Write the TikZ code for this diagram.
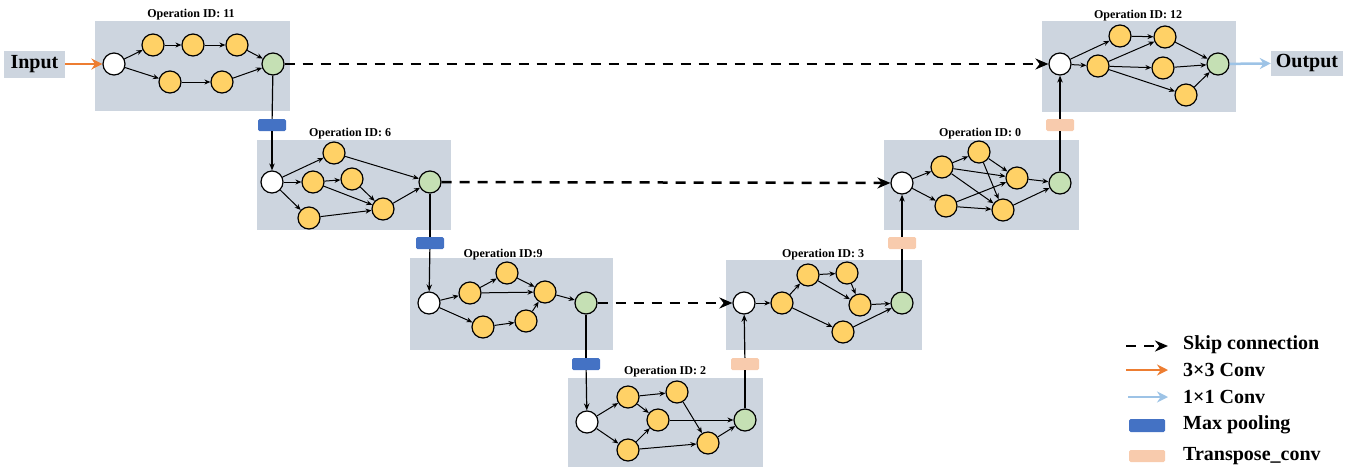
\documentclass[tikz,border=0pt]{standalone}
\usepackage{fontspec}
\setmainfont{Liberation Serif}
\usetikzlibrary{arrows.meta}
\definecolor{boxgray}{RGB}{205,213,223}
\definecolor{ylw}{RGB}{255,209,102}
\definecolor{grn}{RGB}{197,224,180}
\definecolor{mpblue}{RGB}{68,114,196}
\definecolor{tcpink}{RGB}{248,203,173}
\definecolor{orng}{RGB}{237,125,49}
\definecolor{lblue}{RGB}{157,195,230}
\begin{document}
\begin{tikzpicture}[x=1pt,y=-1pt,
 opnode/.style={circle,draw=black,line width=1.2pt,minimum size=22pt,inner sep=0pt},
 wn/.style={opnode,fill=white},
 yn/.style={opnode,fill=ylw},
 gn/.style={opnode,fill=grn},
 edge/.style={-{Stealth[length=6pt,width=5pt]},line width=1pt},
 plain/.style={line width=1.2pt},
 vedge/.style={-{Stealth[length=7pt,width=5.5pt]},line width=1.2pt},
 panel/.style={fill=boxgray,draw=none,inner sep=0pt},
 title/.style={font=\bfseries\fontsize{12}{14}\selectfont,inner sep=0pt},
 skip/.style={dash pattern=on 10pt off 8pt,line width=2.5pt,-{Stealth[length=13pt,width=11pt]}},
 pool/.style={fill=mpblue,rounded corners=1.5pt,minimum width=28pt,minimum height=12pt,inner sep=0pt},
 tconv/.style={fill=tcpink,rounded corners=1.5pt,minimum width=28pt,minimum height=12pt,inner sep=0pt},
 iolabel/.style={fill=boxgray,inner sep=0pt,font=\bfseries\fontsize{20}{24}\selectfont},
 legtext/.style={anchor=west,inner sep=0pt,font=\bfseries\fontsize{20}{24}\selectfont},
 convarrow/.style={line width=2.5pt,-{Stealth[length=11pt,width=11pt]}}
]
\useasboundingbox (0,0) rectangle (1353,467);

% panels
\node[panel,minimum width=195pt,minimum height=90pt] (p1) at (192.5,66) {};
\node[panel,minimum width=194pt,minimum height=90pt] (p2) at (354,185) {};
\node[panel,minimum width=203pt,minimum height=92pt] (p3) at (511.5,304) {};
\node[panel,minimum width=195pt,minimum height=89pt] (p4) at (665.5,422.5) {};
\node[panel,minimum width=196pt,minimum height=90pt] (p5) at (824,305) {};
\node[panel,minimum width=195pt,minimum height=90pt] (p6) at (981.5,185) {};
\node[panel,minimum width=194pt,minimum height=91pt] (p7) at (1139,66.5) {};

% titles
\node[title] (t1) at (191,15) {Operation ID: 11};
\node[title] (t2) at (350,134) {Operation ID: 6};
\node[title] (t3) at (503,255) {Operation ID:9};
\node[title] (t4) at (665,372) {Operation ID: 2};
\node[title] (t5) at (823,255) {Operation ID: 3};
\node[title] (t6) at (980,134) {Operation ID: 0};
\node[title] (t7) at (1138,16) {Operation ID: 12};

% input / output
\node[iolabel,minimum width=61pt,minimum height=27pt] (inp) at (34.5,64) {Input};
\node[iolabel,minimum width=72pt,minimum height=25pt] (outp) at (1307,63) {Output};

% box 1
\node[wn] (b1w) at (114,64) {};
\node[yn] (b1a) at (153,45) {};
\node[yn] (b1b) at (193,45) {};
\node[yn] (b1c) at (237,45) {};
\node[yn] (b1d) at (170,82) {};
\node[yn] (b1e) at (222,82) {};
\node[gn] (b1g) at (273,64) {};
\foreach \s/\t in {b1w/b1a,b1a/b1b,b1b/b1c,b1c/b1g,b1w/b1d,b1d/b1e,b1e/b1g}
  \draw[edge] (\s) -- (\t);

% box 2
\node[wn] (b2w) at (272,182) {};
\node[yn] (b2a) at (334,153) {};
\node[yn] (b2b) at (313,182) {};
\node[yn] (b2c) at (352,179) {};
\node[yn] (b2d) at (309,218) {};
\node[yn] (b2e) at (383,209) {};
\node[gn] (b2g) at (430,182) {};
\foreach \s/\t in {b2w/b2a,b2w/b2b,b2w/b2d,b2b/b2c,b2b/b2e,b2c/b2e,b2d/b2e,b2a/b2g,b2e/b2g}
  \draw[edge] (\s) -- (\t);

% box 3
\node[wn] (b3w) at (429,303) {};
\node[yn] (b3a) at (470,293) {};
\node[yn] (b3b) at (507,273) {};
\node[yn] (b3c) at (545,292) {};
\node[yn] (b3d) at (483,327) {};
\node[yn] (b3e) at (526,321) {};
\node[gn] (b3g) at (586,303) {};
\foreach \s/\t in {b3w/b3a,b3a/b3b,b3a/b3c,b3b/b3c,b3w/b3d,b3d/b3e,b3e/b3c,b3c/b3g}
  \draw[edge] (\s) -- (\t);

% box 4
\node[wn] (b4w) at (587,422) {};
\node[yn] (b4a) at (628,397) {};
\node[yn] (b4b) at (677,392) {};
\node[yn] (b4c) at (658,420) {};
\node[yn] (b4d) at (628,450) {};
\node[yn] (b4e) at (708,443) {};
\node[gn] (b4g) at (745,420) {};
\foreach \s/\t in {b4w/b4a,b4a/b4b,b4a/b4c,b4w/b4d,b4d/b4c,b4b/b4e,b4c/b4g,b4d/b4e,b4e/b4g}
  \draw[edge] (\s) -- (\t);

% box 5
\node[wn] (b5w) at (744,303) {};
\node[yn] (b5a) at (782,303) {};
\node[yn] (b5b) at (808,275) {};
\node[yn] (b5c) at (847,273) {};
\node[yn] (b5d) at (860,305) {};
\node[yn] (b5e) at (843,332) {};
\node[gn] (b5g) at (902,303) {};
\foreach \s/\t in {b5w/b5a,b5a/b5b,b5b/b5c,b5b/b5d,b5c/b5d,b5d/b5g,b5a/b5e,b5e/b5g}
  \draw[edge] (\s) -- (\t);

% box 6
\node[wn] (b6w) at (902,183) {};
\node[yn] (b6a) at (942,167) {};
\node[yn] (b6b) at (979,152) {};
\node[yn] (b6c) at (1017,178) {};
\node[yn] (b6d) at (946,206) {};
\node[yn] (b6e) at (1003,210) {};
\node[gn] (b6g) at (1060,183) {};
\foreach \s/\t in {b6w/b6a,b6w/b6d,b6a/b6b,b6a/b6c,b6a/b6e,b6b/b6c,b6b/b6e,b6d/b6c,b6d/b6e,b6c/b6g,b6e/b6g}
  \draw[edge] (\s) -- (\t);

% box 7
\node[wn] (b7w) at (1060,64) {};
\node[yn] (b7a) at (1120,36) {};
\node[yn] (b7b) at (1165,37) {};
\node[yn] (b7c) at (1098,66) {};
\node[yn] (b7d) at (1163,68) {};
\node[yn] (b7e) at (1186,95) {};
\node[gn] (b7g) at (1218,64) {};
\foreach \s/\t in {b7w/b7a,b7w/b7c,b7a/b7b,b7c/b7b,b7c/b7d,b7c/b7e,b7b/b7g,b7d/b7g,b7e/b7g}
  \draw[edge] (\s) -- (\t);

% pooling / transpose conv blocks
\node[pool] (mp1) at (272,125) {};
\node[pool] (mp2) at (430,243) {};
\node[pool] (mp3) at (586,364) {};
\node[tconv] (tc1) at (745,364) {};
\node[tconv] (tc2) at (902,243) {};
\node[tconv] (tc3) at (1060,125) {};

% down path
\draw[plain] (b1g) -- (mp1);
\draw[vedge] (mp1) -- (b2w);
\draw[plain] (b2g) -- (mp2);
\draw[vedge] (mp2) -- (b3w);
\draw[plain] (b3g) -- (mp3);
\draw[vedge] (mp3) -- (b4w);
% up path
\draw[plain] (b4g) -- (tc1);
\draw[vedge] (tc1) -- (b5w);
\draw[plain] (b5g) -- (tc2);
\draw[vedge] (tc2) -- (b6w);
\draw[plain] (b6g) -- (tc3);
\draw[vedge] (tc3) -- (b7w);

% skip connections
\draw[skip] (b1g) -- (b7w);
\draw[skip] (b2g) -- (b6w);
\draw[skip] (b3g) -- (b5w);

% input/output arrows
\draw[convarrow,orng] (inp) -- (b1w);
\draw[convarrow,lblue] (b7g) -- (outp);

% legend
\coordinate (l1a) at (1126,346); \coordinate (l1b) at (1168,346);
\coordinate (l2a) at (1126,370); \coordinate (l2b) at (1168,370);
\coordinate (l3a) at (1128,397); \coordinate (l3b) at (1168,397);
\draw[skip] (l1a) -- (l1b);
\draw[convarrow,orng] (l2a) -- (l2b);
\draw[convarrow,lblue] (l3a) -- (l3b);
\node[pool,minimum width=36pt,minimum height=13pt] (lmp) at (1147,425.5) {};
\node[tconv,minimum width=36pt,minimum height=12pt] (ltc) at (1147,456) {};
\node[legtext] (lt1) at (1183,345) {Skip connection};
\node[legtext] (lt2) at (1183,370) {3×3 Conv};
\node[legtext] (lt3) at (1183,397) {1×1 Conv};
\node[legtext] (lt4) at (1183,425) {Max pooling};
\node[legtext] (lt5) at (1183,456) {Transpose\_conv};
\end{tikzpicture}
\end{document}
